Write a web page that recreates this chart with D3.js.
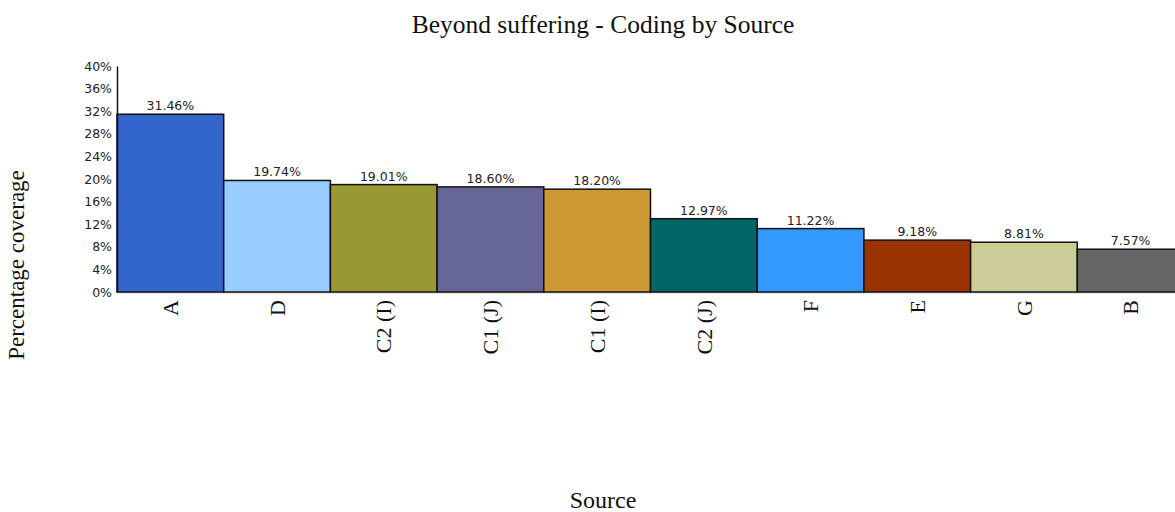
<!DOCTYPE html>
<html><head><meta charset="utf-8">
<script src="https://cdn.jsdelivr.net/npm/d3@7"></script>
<style>body{margin:0;background:#fff;overflow:hidden}</style>
</head><body>
<svg id="c" width="1175" height="512"></svg>
<script>
const categories = ["A","D","C2 (I)","C1 (J)","C1 (I)","C2 (J)","F","E","G","B"];
const values = [31.46,19.74,19.01,18.60,18.20,12.97,11.22,9.18,8.81,7.57];
const colors = ["#3366CC","#99CCFF","#999933","#666699","#CC9933","#006666","#3399FF","#993300","#CCCC99","#666666"];
const yTicks = [0,4,8,12,16,20,24,28,32,36,40];
const title = "Beyond suffering - Coding by Source";
const xTitle = "Source";
const yTitle = "Percentage coverage";

const svg = d3.select("#c");
const plotL = 117, plotR = 1184, plotT = 66, plotB = 292;
const x = d3.scaleBand().domain(categories).range([plotL, plotR]).padding(0);
const y = d3.scaleLinear().domain([0, 40]).range([plotB, plotT]);

// baseline
svg.append("line").attr("x1", plotL).attr("x2", 1175).attr("y1", plotB + 1).attr("y2", plotB + 1)
  .attr("stroke", "#ccc").attr("stroke-width", 1);

const data = categories.map((c, i) => ({c, v: values[i], col: colors[i]}));

svg.selectAll("rect.bar").data(data).enter().append("rect")
  .attr("class", "bar")
  .attr("x", d => x(d.c))
  .attr("y", d => y(d.v))
  .attr("width", x.bandwidth())
  .attr("height", d => y(0) - y(d.v))
  .attr("fill", d => d.col)
  .attr("stroke", "#111").attr("stroke-width", 1.5);

svg.selectAll("text.val").data(data).enter().append("text")
  .attr("class", "val")
  .attr("x", d => x(d.c) + x.bandwidth() / 2)
  .attr("y", d => y(d.v) - 4)
  .attr("text-anchor", "middle")
  .attr("font-family", "DejaVu Sans, Verdana, sans-serif")
  .attr("font-size", 12.5)
  .attr("fill", "#222")
  .text(d => d.v.toFixed(2) + "%");

// y axis
const yAxis = d3.axisLeft(y).tickValues(yTicks).tickFormat(d => d + "%").tickSize(0).tickPadding(5);
const gy = svg.append("g").attr("transform", `translate(${plotL},0)`).call(yAxis);
gy.select(".domain").attr("stroke", "#111").attr("stroke-width", 1.5);
gy.selectAll("text").attr("font-family", "DejaVu Sans, Verdana, sans-serif").attr("font-size", 12.5).attr("fill", "#222");

// x axis labels
const xAxis = d3.axisBottom(x).tickSize(0).tickPadding(0);
const gx = svg.append("g").attr("transform", `translate(0,${plotB})`).call(xAxis);
gx.select(".domain").remove();
gx.selectAll("text")
  .attr("font-family", "Liberation Serif, Times New Roman, serif")
  .attr("font-size", 22)
  .attr("fill", "#111")
  .attr("text-anchor", "end")
  .attr("transform", "rotate(-90)")
  .attr("x", -8).attr("y", 0).attr("dy", "0.35em");

svg.append("text").attr("x", 603).attr("y", 33).attr("text-anchor", "middle")
  .attr("font-family", "Liberation Serif, Times New Roman, serif").attr("font-size", 25.5).attr("fill", "#111")
  .text(title);
svg.append("text").attr("x", 603).attr("y", 508).attr("text-anchor", "middle")
  .attr("font-family", "Liberation Serif, Times New Roman, serif").attr("font-size", 24).attr("fill", "#111")
  .text(xTitle);
svg.append("text").attr("transform", "translate(24,265) rotate(-90)").attr("text-anchor", "middle")
  .attr("font-family", "Liberation Serif, Times New Roman, serif").attr("font-size", 23).attr("fill", "#111")
  .text(yTitle);
</script>
</body></html>
